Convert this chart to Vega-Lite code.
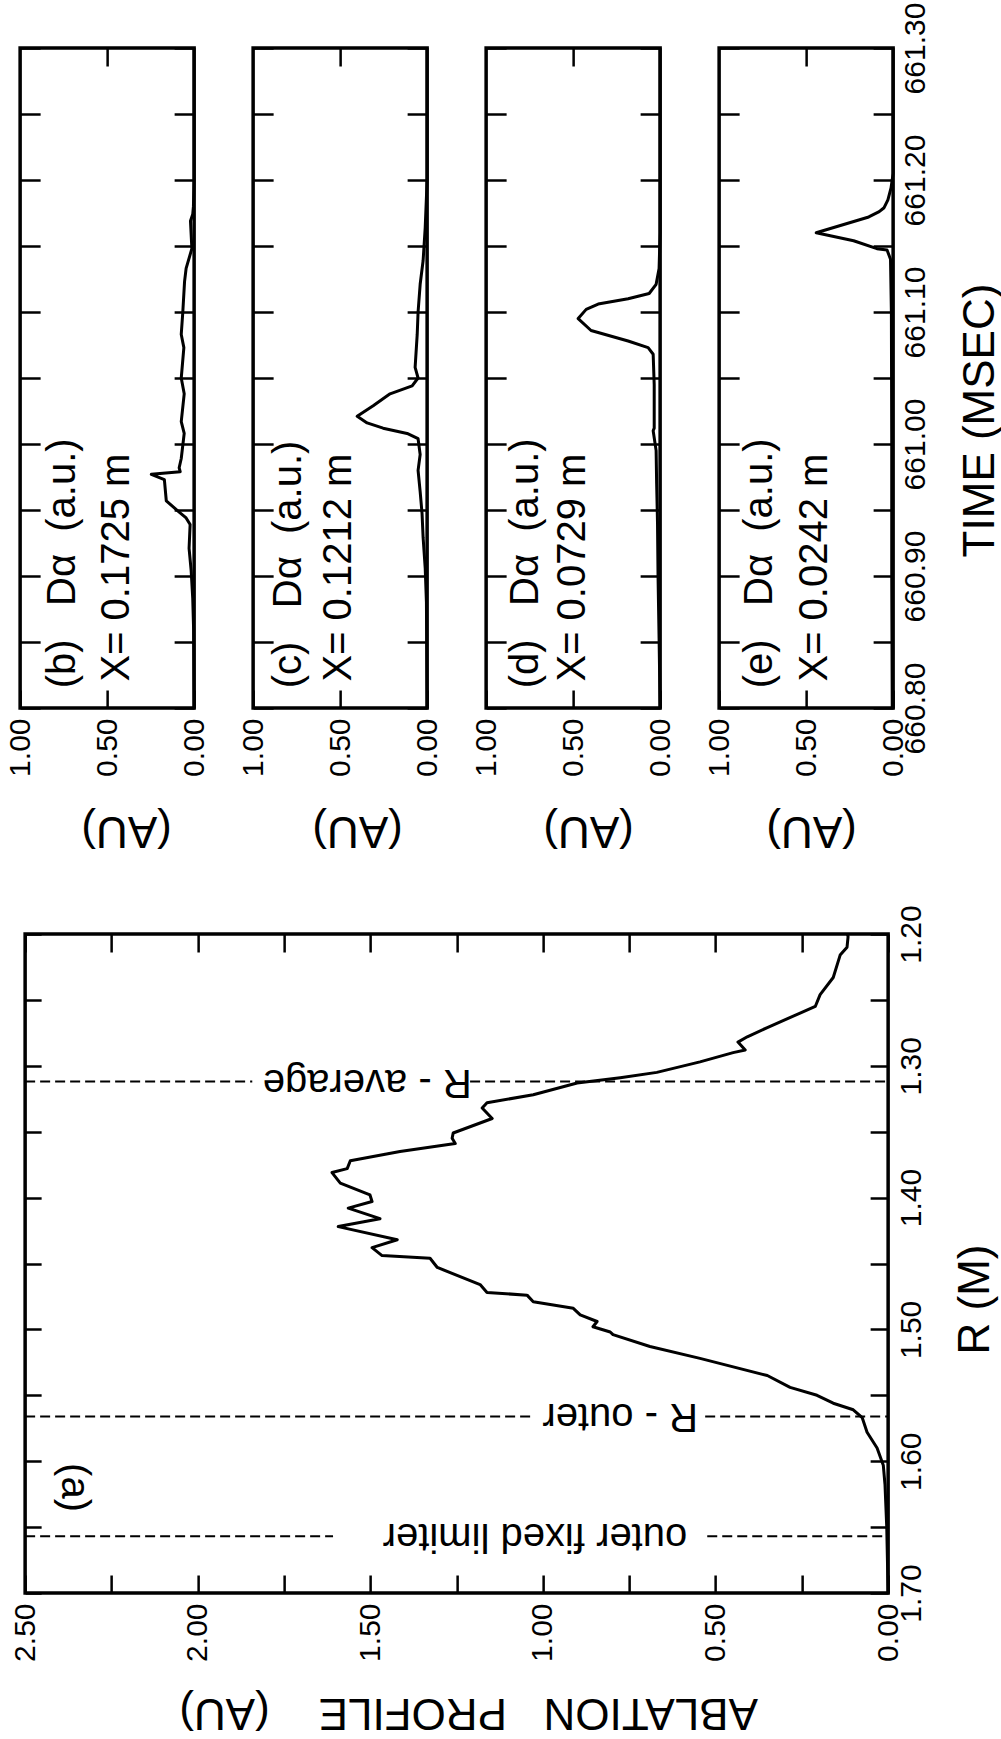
{
  "$schema": "https://vega.github.io/schema/vega-lite/v6.json",
  "background": "white",
  "padding": {"left": 3, "top": 0, "right": 0, "bottom": 5},
  "spacing": 50,
  "center": true,
  "config": {
    "font": "Liberation Sans",
    "view": {"stroke": "black", "strokeWidth": 3.5},
    "axis": {"domain": false, "grid": false, "tickColor": "black", "tickWidth": 2.5, "labelColor": "black", "titleColor": "black", "labelFontSize": 30, "titleFontSize": 44, "titleFontWeight": "normal", "labelOverlap": false, "labelFont": "Liberation Sans", "titleFont": "Liberation Sans"},
    "text": {"color": "black", "font": "Liberation Sans"}
  },
  "datasets": {
    "traces": [
      {"p":"b","t":661.3,"v":0},{"p":"b","t":661.2,"v":0},{"p":"b","t":661.18,"v":0.004},{"p":"b","t":661.174,"v":0.008},{"p":"b","t":661.169,"v":0.021},{"p":"b","t":661.148,"v":0.013},{"p":"b","t":661.133,"v":0.046},{"p":"b","t":661.123,"v":0.055},{"p":"b","t":661.1,"v":0.065},{"p":"b","t":661.083,"v":0.074},{"p":"b","t":661.073,"v":0.059},{"p":"b","t":661.05,"v":0.074},{"p":"b","t":661.038,"v":0.057},{"p":"b","t":661.017,"v":0.074},{"p":"b","t":661.008,"v":0.057},{"p":"b","t":660.989,"v":0.074},{"p":"b","t":660.982,"v":0.086},{"p":"b","t":660.979,"v":0.08},{"p":"b","t":660.977,"v":0.246},{"p":"b","t":660.973,"v":0.171},{"p":"b","t":660.957,"v":0.16},{"p":"b","t":660.949,"v":0.091},{"p":"b","t":660.944,"v":0.046},{"p":"b","t":660.939,"v":0.023},{"p":"b","t":660.921,"v":0.029},{"p":"b","t":660.904,"v":0.017},{"p":"b","t":660.883,"v":0.008},{"p":"b","t":660.86,"v":0.003},{"p":"b","t":660.8,"v":0},
      {"p":"c","t":661.3,"v":0},{"p":"c","t":661.2,"v":0},{"p":"c","t":661.164,"v":0.011},{"p":"c","t":661.139,"v":0.023},{"p":"c","t":661.121,"v":0.04},{"p":"c","t":661.1,"v":0.052},{"p":"c","t":661.083,"v":0.057},{"p":"c","t":661.058,"v":0.069},{"p":"c","t":661.05,"v":0.052},{"p":"c","t":661.044,"v":0.086},{"p":"c","t":661.038,"v":0.213},{"p":"c","t":661.029,"v":0.31},{"p":"c","t":661.021,"v":0.402},{"p":"c","t":661.016,"v":0.345},{"p":"c","t":661.012,"v":0.253},{"p":"c","t":661.008,"v":0.115},{"p":"c","t":661.004,"v":0.052},{"p":"c","t":660.992,"v":0.04},{"p":"c","t":660.98,"v":0.052},{"p":"c","t":660.964,"v":0.04},{"p":"c","t":660.947,"v":0.029},{"p":"c","t":660.929,"v":0.023},{"p":"c","t":660.906,"v":0.011},{"p":"c","t":660.88,"v":0.004},{"p":"c","t":660.8,"v":0},
      {"p":"d","t":661.3,"v":0},{"p":"d","t":661.16,"v":0},{"p":"d","t":661.133,"v":0.006},{"p":"d","t":661.121,"v":0.023},{"p":"d","t":661.114,"v":0.063},{"p":"d","t":661.11,"v":0.184},{"p":"d","t":661.106,"v":0.356},{"p":"d","t":661.102,"v":0.425},{"p":"d","t":661.095,"v":0.471},{"p":"d","t":661.086,"v":0.397},{"p":"d","t":661.078,"v":0.184},{"p":"d","t":661.073,"v":0.069},{"p":"d","t":661.068,"v":0.04},{"p":"d","t":661.045,"v":0.034},{"p":"d","t":661.012,"v":0.034},{"p":"d","t":661.01,"v":0.04},{"p":"d","t":660.995,"v":0.023},{"p":"d","t":660.97,"v":0.02},{"p":"d","t":660.94,"v":0.015},{"p":"d","t":660.9,"v":0.012},{"p":"d","t":660.853,"v":0.006},{"p":"d","t":660.8,"v":0},
      {"p":"e","t":661.3,"v":0},{"p":"e","t":661.205,"v":0},{"p":"e","t":661.194,"v":0.012},{"p":"e","t":661.185,"v":0.03},{"p":"e","t":661.179,"v":0.052},{"p":"e","t":661.176,"v":0.08},{"p":"e","t":661.172,"v":0.14},{"p":"e","t":661.16,"v":0.442},{"p":"e","t":661.154,"v":0.227},{"p":"e","t":661.148,"v":0.093},{"p":"e","t":661.147,"v":0.035},{"p":"e","t":661.14,"v":0.015},{"p":"e","t":661.1,"v":0.01},{"p":"e","t":661.0,"v":0.008},{"p":"e","t":660.9,"v":0.008},{"p":"e","t":660.8,"v":0.005}
    ],
    "notes": [
      {"p":"b","v":0.754,"t":660.815,"label":"(b)\u00a0\u00a0\u00a0Dα\u00a0\u00a0(a.u.)"},
      {"p":"b","v":0.446,"t":660.82,"label":"X=\u00a00.1725 m"},
      {"p":"c","v":0.793,"t":660.815,"label":"(c)\u00a0\u00a0\u00a0Dα\u00a0\u00a0(a.u.)"},
      {"p":"c","v":0.506,"t":660.82,"label":"X=\u00a00.1212 m"},
      {"p":"d","v":0.77,"t":660.815,"label":"(d)\u00a0\u00a0\u00a0Dα\u00a0\u00a0(a.u.)"},
      {"p":"d","v":0.5,"t":660.82,"label":"X=\u00a00.0729 m"},
      {"p":"e","v":0.767,"t":660.815,"label":"(e)\u00a0\u00a0\u00a0Dα\u00a0\u00a0(a.u.)"},
      {"p":"e","v":0.448,"t":660.82,"label":"X=\u00a00.0242 m"}
    ],
    "profile": [
      {"R":1.2,"a":0.118},{"R":1.202,"a":0.116},{"R":1.21,"a":0.119},{"R":1.216,"a":0.139},{"R":1.233,"a":0.159},{"R":1.246,"a":0.197},{"R":1.255,"a":0.211},{"R":1.26,"a":0.255},{"R":1.271,"a":0.35},{"R":1.278,"a":0.408},{"R":1.282,"a":0.435},{"R":1.288,"a":0.414},{"R":1.29,"a":0.449},{"R":1.297,"a":0.545},{"R":1.305,"a":0.67},{"R":1.309,"a":0.776},{"R":1.313,"a":0.901},{"R":1.322,"a":1.028},{"R":1.328,"a":1.162},{"R":1.332,"a":1.176},{"R":1.34,"a":1.147},{"R":1.351,"a":1.26},{"R":1.355,"a":1.263},{"R":1.359,"a":1.254},{"R":1.365,"a":1.414},{"R":1.372,"a":1.558},{"R":1.378,"a":1.567},{"R":1.381,"a":1.611},{"R":1.389,"a":1.587},{"R":1.398,"a":1.501},{"R":1.403,"a":1.495},{"R":1.408,"a":1.564},{"R":1.416,"a":1.472},{"R":1.422,"a":1.593},{"R":1.432,"a":1.422},{"R":1.438,"a":1.495},{"R":1.444,"a":1.466},{"R":1.446,"a":1.327},{"R":1.453,"a":1.306},{"R":1.466,"a":1.182},{"R":1.472,"a":1.162},{"R":1.474,"a":1.046},{"R":1.479,"a":1.028},{"R":1.484,"a":0.912},{"R":1.489,"a":0.892},{"R":1.494,"a":0.843},{"R":1.498,"a":0.855},{"R":1.502,"a":0.805},{"R":1.504,"a":0.797},{"R":1.513,"a":0.69},{"R":1.522,"a":0.545},{"R":1.535,"a":0.35},{"R":1.544,"a":0.284},{"R":1.55,"a":0.206},{"R":1.556,"a":0.159},{"R":1.561,"a":0.101},{"R":1.567,"a":0.075},{"R":1.578,"a":0.061},{"R":1.59,"a":0.032},{"R":1.603,"a":0.014},{"R":1.618,"a":0.009},{"R":1.65,"a":0.004},{"R":1.7,"a":0.0}
    ],
    "limits": [
      {"R":1.312,"a1":2.5,"a2":1.842},{"R":1.312,"a1":1.211,"a2":0},
      {"R":1.566,"a1":2.5,"a2":1.023},{"R":1.566,"a1":0.53,"a2":0},
      {"R":1.657,"a1":2.5,"a2":1.608},{"R":1.657,"a1":0.524,"a2":0}
    ],
    "alabels": [
      {"label":"R - average","a":1.509,"R":1.312},
      {"label":"R - outer","a":0.776,"R":1.566},
      {"label":"outer fixed limiter","a":1.023,"R":1.657}
    ]
  },
  "vconcat": [
    {
      "bounds": "flush",
      "spacing": 59,
      "hconcat": [
        {
          "width": 174, "height": 660,
          "layer": [
            {"data": {"name": "traces"}, "transform": [{"filter": "datum.p == 'b'"}],
             "mark": {"type": "line", "color": "black", "strokeWidth": 3, "strokeJoin": "round"},
             "encoding": {
               "x": {"field": "v", "type": "quantitative", "scale": {"domain": [0, 1], "reverse": true, "nice": false, "zero": false},
                     "axis": {"orient": "bottom", "values": [0, 0.5, 1], "format": ".2f", "labelAngle": 270, "labelAlign": "right", "labelBaseline": "middle", "tickSize": -18, "labelPadding": 28, "title": "(AU)", "titleAngle": 180, "titleAlign": "center", "titleBaseline": "middle", "titleX": 106, "titleY": 121}},
               "y": {"field": "t", "type": "quantitative", "scale": {"domain": [660.8, 661.3], "nice": false, "zero": false},
                     "axis": {"orient": "left", "values": [660.8,660.85,660.9,660.95,661,661.05,661.1,661.15,661.2,661.25,661.3], "labels": false, "tickSize": -20, "title": null}},
               "order": {"field": "t", "type": "quantitative"}
             }},
            {"data": {"name": "notes"}, "transform": [{"filter": "datum.p == 'b'"}],
             "mark": {"type": "text", "angle": 270, "align": "left", "baseline": "middle", "fontSize": 40},
             "encoding": {
               "x": {"field": "v", "type": "quantitative", "scale": {"domain": [0, 1], "reverse": true, "nice": false, "zero": false},
                     "axis": {"orient": "top", "values": [0.5], "labels": false, "tickSize": -18, "title": null}},
               "y": {"field": "t", "type": "quantitative", "scale": {"domain": [660.8, 661.3], "nice": false, "zero": false},
                     "axis": {"orient": "right", "values": [660.8,660.85,660.9,660.95,661,661.05,661.1,661.15,661.2,661.25,661.3], "labels": false, "tickSize": -20, "title": null}},
               "text": {"field": "label"}
             }}
          ],
          "resolve": {"axis": {"x": "independent", "y": "independent"}}
        },
        {
          "width": 174, "height": 660,
          "layer": [
            {"data": {"name": "traces"}, "transform": [{"filter": "datum.p == 'c'"}],
             "mark": {"type": "line", "color": "black", "strokeWidth": 3, "strokeJoin": "round"},
             "encoding": {
               "x": {"field": "v", "type": "quantitative", "scale": {"domain": [0, 1], "reverse": true, "nice": false, "zero": false},
                     "axis": {"orient": "bottom", "values": [0, 0.5, 1], "format": ".2f", "labelAngle": 270, "labelAlign": "right", "labelBaseline": "middle", "tickSize": -18, "labelPadding": 28, "title": "(AU)", "titleAngle": 180, "titleAlign": "center", "titleBaseline": "middle", "titleX": 104, "titleY": 121}},
               "y": {"field": "t", "type": "quantitative", "scale": {"domain": [660.8, 661.3], "nice": false, "zero": false},
                     "axis": {"orient": "left", "values": [660.8,660.85,660.9,660.95,661,661.05,661.1,661.15,661.2,661.25,661.3], "labels": false, "tickSize": -20, "title": null}},
               "order": {"field": "t", "type": "quantitative"}
             }},
            {"data": {"name": "notes"}, "transform": [{"filter": "datum.p == 'c'"}],
             "mark": {"type": "text", "angle": 270, "align": "left", "baseline": "middle", "fontSize": 40},
             "encoding": {
               "x": {"field": "v", "type": "quantitative", "scale": {"domain": [0, 1], "reverse": true, "nice": false, "zero": false},
                     "axis": {"orient": "top", "values": [0.5], "labels": false, "tickSize": -18, "title": null}},
               "y": {"field": "t", "type": "quantitative", "scale": {"domain": [660.8, 661.3], "nice": false, "zero": false},
                     "axis": {"orient": "right", "values": [660.8,660.85,660.9,660.95,661,661.05,661.1,661.15,661.2,661.25,661.3], "labels": false, "tickSize": -20, "title": null}},
               "text": {"field": "label"}
             }}
          ],
          "resolve": {"axis": {"x": "independent", "y": "independent"}}
        },
        {
          "width": 174, "height": 660,
          "layer": [
            {"data": {"name": "traces"}, "transform": [{"filter": "datum.p == 'd'"}],
             "mark": {"type": "line", "color": "black", "strokeWidth": 3, "strokeJoin": "round"},
             "encoding": {
               "x": {"field": "v", "type": "quantitative", "scale": {"domain": [0, 1], "reverse": true, "nice": false, "zero": false},
                     "axis": {"orient": "bottom", "values": [0, 0.5, 1], "format": ".2f", "labelAngle": 270, "labelAlign": "right", "labelBaseline": "middle", "tickSize": -18, "labelPadding": 28, "title": "(AU)", "titleAngle": 180, "titleAlign": "center", "titleBaseline": "middle", "titleX": 102, "titleY": 121}},
               "y": {"field": "t", "type": "quantitative", "scale": {"domain": [660.8, 661.3], "nice": false, "zero": false},
                     "axis": {"orient": "left", "values": [660.8,660.85,660.9,660.95,661,661.05,661.1,661.15,661.2,661.25,661.3], "labels": false, "tickSize": -20, "title": null}},
               "order": {"field": "t", "type": "quantitative"}
             }},
            {"data": {"name": "notes"}, "transform": [{"filter": "datum.p == 'd'"}],
             "mark": {"type": "text", "angle": 270, "align": "left", "baseline": "middle", "fontSize": 40},
             "encoding": {
               "x": {"field": "v", "type": "quantitative", "scale": {"domain": [0, 1], "reverse": true, "nice": false, "zero": false},
                     "axis": {"orient": "top", "values": [0.5], "labels": false, "tickSize": -18, "title": null}},
               "y": {"field": "t", "type": "quantitative", "scale": {"domain": [660.8, 661.3], "nice": false, "zero": false},
                     "axis": {"orient": "right", "values": [660.8,660.85,660.9,660.95,661,661.05,661.1,661.15,661.2,661.25,661.3], "labels": false, "tickSize": -20, "title": null}},
               "text": {"field": "label"}
             }}
          ],
          "resolve": {"axis": {"x": "independent", "y": "independent"}}
        },
        {
          "width": 174, "height": 660,
          "layer": [
            {"data": {"name": "traces"}, "transform": [{"filter": "datum.p == 'e'"}],
             "mark": {"type": "line", "color": "black", "strokeWidth": 3, "strokeJoin": "round"},
             "encoding": {
               "x": {"field": "v", "type": "quantitative", "scale": {"domain": [0, 1], "reverse": true, "nice": false, "zero": false},
                     "axis": {"orient": "bottom", "values": [0, 0.5, 1], "format": ".2f", "labelAngle": 270, "labelAlign": "right", "labelBaseline": "middle", "tickSize": -18, "labelPadding": 28, "title": "(AU)", "titleAngle": 180, "titleAlign": "center", "titleBaseline": "middle", "titleX": 92, "titleY": 121}},
               "y": {"field": "t", "type": "quantitative", "scale": {"domain": [660.8, 661.3], "nice": false, "zero": false},
                     "axis": {"orient": "left", "values": [660.8,660.85,660.9,660.95,661,661.05,661.1,661.15,661.2,661.25,661.3], "labels": false, "tickSize": -20, "title": null}},
               "order": {"field": "t", "type": "quantitative"}
             }},
            {"data": {"name": "notes"}, "transform": [{"filter": "datum.p == 'e'"}],
             "mark": {"type": "text", "angle": 270, "align": "left", "baseline": "middle", "fontSize": 40},
             "encoding": {
               "x": {"field": "v", "type": "quantitative", "scale": {"domain": [0, 1], "reverse": true, "nice": false, "zero": false},
                     "axis": {"orient": "top", "values": [0.5], "labels": false, "tickSize": -18, "title": null}},
               "y": {"field": "t", "type": "quantitative", "scale": {"domain": [660.8, 661.3], "nice": false, "zero": false},
                     "axis": {"orient": "right", "values": [660.8,660.85,660.9,660.95,661,661.05,661.1,661.15,661.2,661.25,661.3], "labelExpr": "round(datum.value*100) % 10 == 0 ? format(datum.value, '.2f') : ''", "labelAngle": 270, "labelAlign": "center", "labelBaseline": "top", "tickSize": -20, "labelPadding": 27, "title": "TIME (MSEC)", "titleAngle": 270, "titleAlign": "center", "titleBaseline": "middle", "titleX": 87, "titleY": 372}},
               "text": {"field": "label"}
             }}
          ],
          "resolve": {"axis": {"x": "independent", "y": "independent"}}
        }
      ]
    },
    {
      "width": 863, "height": 659,
      "layer": [
        {"data": {"name": "profile"},
         "mark": {"type": "line", "color": "black", "strokeWidth": 3, "strokeJoin": "round"},
         "encoding": {
           "x": {"field": "a", "type": "quantitative", "scale": {"domain": [0, 2.5], "reverse": true, "nice": false, "zero": false},
                 "axis": {"orient": "bottom", "values": [0,0.25,0.5,0.75,1,1.25,1.5,1.75,2,2.25,2.5], "labelExpr": "round(datum.value*100) % 50 == 0 ? format(datum.value, '.2f') : ''", "labelAngle": 270, "labelAlign": "right", "labelBaseline": "middle", "tickSize": -18, "labelPadding": 28, "title": "ABLATION\u00a0\u00a0\u00a0PROFILE\u00a0\u00a0\u00a0\u00a0(AU)", "titleAngle": 180, "titleAlign": "center", "titleBaseline": "middle", "titleX": 443, "titleY": 118}},
           "y": {"field": "R", "type": "quantitative", "scale": {"domain": [1.2, 1.7], "reverse": true, "nice": false, "zero": false},
                 "axis": {"orient": "right", "values": [1.2,1.25,1.3,1.35,1.4,1.45,1.5,1.55,1.6,1.65,1.7], "labelExpr": "round(datum.value*100) % 10 == 0 ? format(datum.value, '.2f') : ''", "labelAngle": 270, "labelAlign": "center", "labelBaseline": "top", "tickSize": -18, "labelPadding": 26, "title": "R (M)", "titleAngle": 270, "titleAlign": "center", "titleBaseline": "middle", "titleX": 87, "titleY": 365}},
           "order": {"field": "R", "type": "quantitative"}
         }},
        {"data": {"name": "limits"},
         "mark": {"type": "rule", "color": "black", "strokeWidth": 2, "strokeDash": [10, 5]},
         "encoding": {
           "x": {"field": "a1", "type": "quantitative", "scale": {"domain": [0, 2.5], "reverse": true, "nice": false, "zero": false},
                 "axis": {"orient": "top", "values": [0,0.25,0.5,0.75,1,1.25,1.5,1.75,2,2.25,2.5], "labels": false, "tickSize": -18, "title": null}},
           "x2": {"field": "a2"},
           "y": {"field": "R", "type": "quantitative", "scale": {"domain": [1.2, 1.7], "reverse": true, "nice": false, "zero": false},
                 "axis": {"orient": "left", "values": [1.2,1.25,1.3,1.35,1.4,1.45,1.5,1.55,1.6,1.65,1.7], "labels": false, "tickSize": -16, "title": null}}
         }},
        {"data": {"name": "alabels"},
         "mark": {"type": "text", "angle": 180, "align": "center", "baseline": "middle", "fontSize": 40},
         "encoding": {
           "x": {"field": "a", "type": "quantitative", "scale": {"domain": [0, 2.5], "reverse": true, "nice": false, "zero": false}, "axis": null},
           "y": {"field": "R", "type": "quantitative", "scale": {"domain": [1.2, 1.7], "reverse": true, "nice": false, "zero": false}, "axis": null},
           "text": {"field": "label"}
         }},
        {"data": {"values": [{"label": "(a)", "a": 2.358, "R": 1.62}]},
         "mark": {"type": "text", "angle": 90, "align": "center", "baseline": "middle", "fontSize": 40},
         "encoding": {
           "x": {"field": "a", "type": "quantitative", "scale": {"domain": [0, 2.5], "reverse": true, "nice": false, "zero": false}, "axis": null},
           "y": {"field": "R", "type": "quantitative", "scale": {"domain": [1.2, 1.7], "reverse": true, "nice": false, "zero": false}, "axis": null},
           "text": {"field": "label"}
         }}
      ],
      "resolve": {"axis": {"x": "independent", "y": "independent"}}
    }
  ]
}
